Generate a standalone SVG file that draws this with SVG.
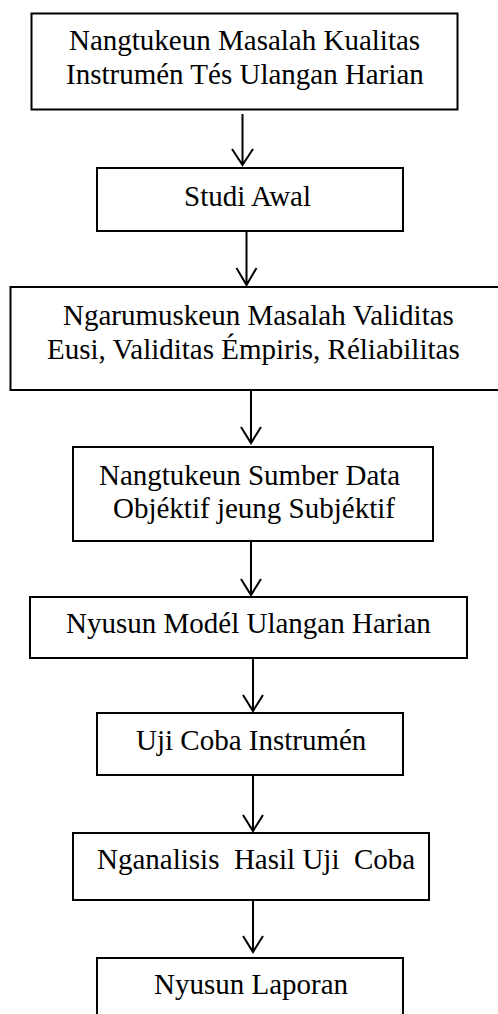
<svg xmlns="http://www.w3.org/2000/svg" width="498" height="1014" viewBox="0 0 498 1014">
<rect width="498" height="1014" fill="#fff"/>
<g id="connectors" fill="none" stroke="#000" stroke-width="2">
<path d="M242.5 114V165M232 149L242.5 165L253 149"/>
<path d="M246.5 231V285M236.5 268L246.5 285L256.5 268"/>
<path d="M251 390V443M241 427L251 443L261 427"/>
<path d="M251 541V595M241 579L251 595L261 579"/>
<path d="M253 658V711M243 695L253 711L263 695"/>
<path d="M253 775V831M243 815L253 831L263 815"/>
<path d="M253 900V952M243 936L253 952L263 936"/>
</g>
<g id="n1"><rect x="31.5" y="13.5" width="426" height="96" fill="#fff" stroke="#000" stroke-width="2"/>
<text x="69" y="50" font-family="Liberation Serif" font-size="29">Nangtukeun Masalah Kualitas</text>
<text x="66" y="84" font-family="Liberation Serif" font-size="29">Instrum&#233;n T&#233;s Ulangan Harian</text></g>
<g id="n2"><rect x="97" y="168" width="306" height="63" fill="#fff" stroke="#000" stroke-width="2"/>
<text x="184" y="205.5" font-family="Liberation Serif" font-size="29">Studi Awal</text></g>
<g id="n3"><rect x="10.5" y="287" width="500" height="103" fill="#fff" stroke="#000" stroke-width="2"/>
<text x="63" y="325" font-family="Liberation Serif" font-size="29">Ngarumuskeun Masalah Validitas</text>
<text x="47" y="359" font-family="Liberation Serif" font-size="29">Eusi, Validitas &#201;mpiris, R&#233;liabilitas</text></g>
<g id="n4"><rect x="73" y="447" width="360" height="94" fill="#fff" stroke="#000" stroke-width="2"/>
<text x="99" y="485" font-family="Liberation Serif" font-size="29">Nangtukeun Sumber Data</text>
<text x="113" y="518" font-family="Liberation Serif" font-size="29">Obj&#233;ktif jeung Subj&#233;ktif</text></g>
<g id="n5"><rect x="30" y="597" width="437" height="61" fill="#fff" stroke="#000" stroke-width="2"/>
<text x="66" y="633" font-family="Liberation Serif" font-size="29">Nyusun Mod&#233;l Ulangan Harian</text></g>
<g id="n6"><rect x="97" y="713" width="306" height="62" fill="#fff" stroke="#000" stroke-width="2"/>
<text x="136" y="750" font-family="Liberation Serif" font-size="29">Uji Coba Instrum&#233;n</text></g>
<g id="n7"><rect x="73" y="833" width="356" height="67" fill="#fff" stroke="#000" stroke-width="2"/>
<text x="97" y="869" font-family="Liberation Serif" font-size="29">Nganalisis&#160; Hasil Uji&#160; Coba</text></g>
<g id="n8"><rect x="97" y="958" width="306" height="70" fill="#fff" stroke="#000" stroke-width="2"/>
<text x="154" y="994" font-family="Liberation Serif" font-size="29">Nyusun Laporan</text></g>
</svg>
